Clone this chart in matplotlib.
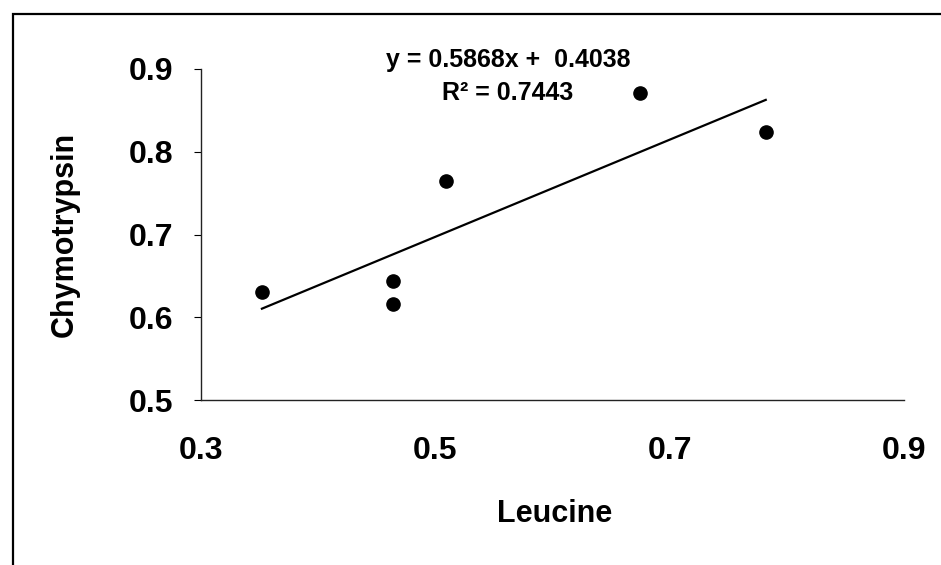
import numpy as np
import matplotlib
matplotlib.use("Agg")
import matplotlib.pyplot as plt
from matplotlib.patches import Rectangle

# values
leucine = [0.352, 0.464, 0.464, 0.509, 0.675, 0.782]
chymotrypsin = [0.630, 0.644, 0.616, 0.765, 0.871, 0.824]
slope = 0.5868
intercept = 0.4038
r_squared = 0.7443
x_ticks = [0.3, 0.5, 0.7, 0.9]
y_ticks = [0.5, 0.6, 0.7, 0.8, 0.9]

plt.rcParams['font.family'] = ['Liberation Sans', 'DejaVu Sans']
plt.rcParams['font.weight'] = 'bold'

fig = plt.figure(figsize=(9.41, 5.65), dpi=100)
ax = fig.add_axes([201 / 941, 1 - 400 / 565, 703 / 941, 331 / 565])

# outer frame of the chart area (only left and top visible in the scan)
fig.patches.append(Rectangle((13 / 941, -0.05), 1.2, 1 - 14 / 565 + 0.05,
                             transform=fig.transFigure, fill=False,
                             edgecolor='black', linewidth=1.6))

ax.plot(leucine, chymotrypsin, 'o', color='black', markersize=9.5)

xs = np.array([min(leucine), max(leucine)])
ax.plot(xs, slope * xs + intercept, color='black', linewidth=1.6)

ax.set_xlim(0.3, 0.9)
ax.set_ylim(0.5, 0.9)
ax.set_xticks(x_ticks)
ax.set_yticks(y_ticks)
ax.set_xticklabels([f"{v:.1f}" for v in x_ticks])
ax.set_yticklabels([f"{v:.1f}" for v in y_ticks])

for side in ['top', 'right']:
    ax.spines[side].set_visible(False)
for side in ['left', 'bottom']:
    ax.spines[side].set_linewidth(1.0)
    ax.spines[side].set_color('#222222')

ax.tick_params(axis='y', direction='out', length=5, width=0.8, pad=15,
               labelsize=23)
ax.tick_params(axis='x', length=0, pad=26, labelsize=23)

ax.set_xlabel('Leucine', fontsize=22, fontweight='bold')
ax.set_ylabel('Chymotrypsin', fontsize=22, fontweight='bold')
ax.xaxis.set_label_coords(0.503, -0.30)
ax.yaxis.set_label_coords(-0.172, 0.50)

ax.text(0.437, 1.027, f"y = {slope:.4f}x +  {intercept:.4f}",
        transform=ax.transAxes, ha='center', va='center', fontsize=18,
        fontweight='bold')
ax.text(0.436, 0.927, f"R² = {r_squared:.4f}",
        transform=ax.transAxes, ha='center', va='center', fontsize=18,
        fontweight='bold')

fig.savefig('out.png', dpi=100, facecolor='white')
